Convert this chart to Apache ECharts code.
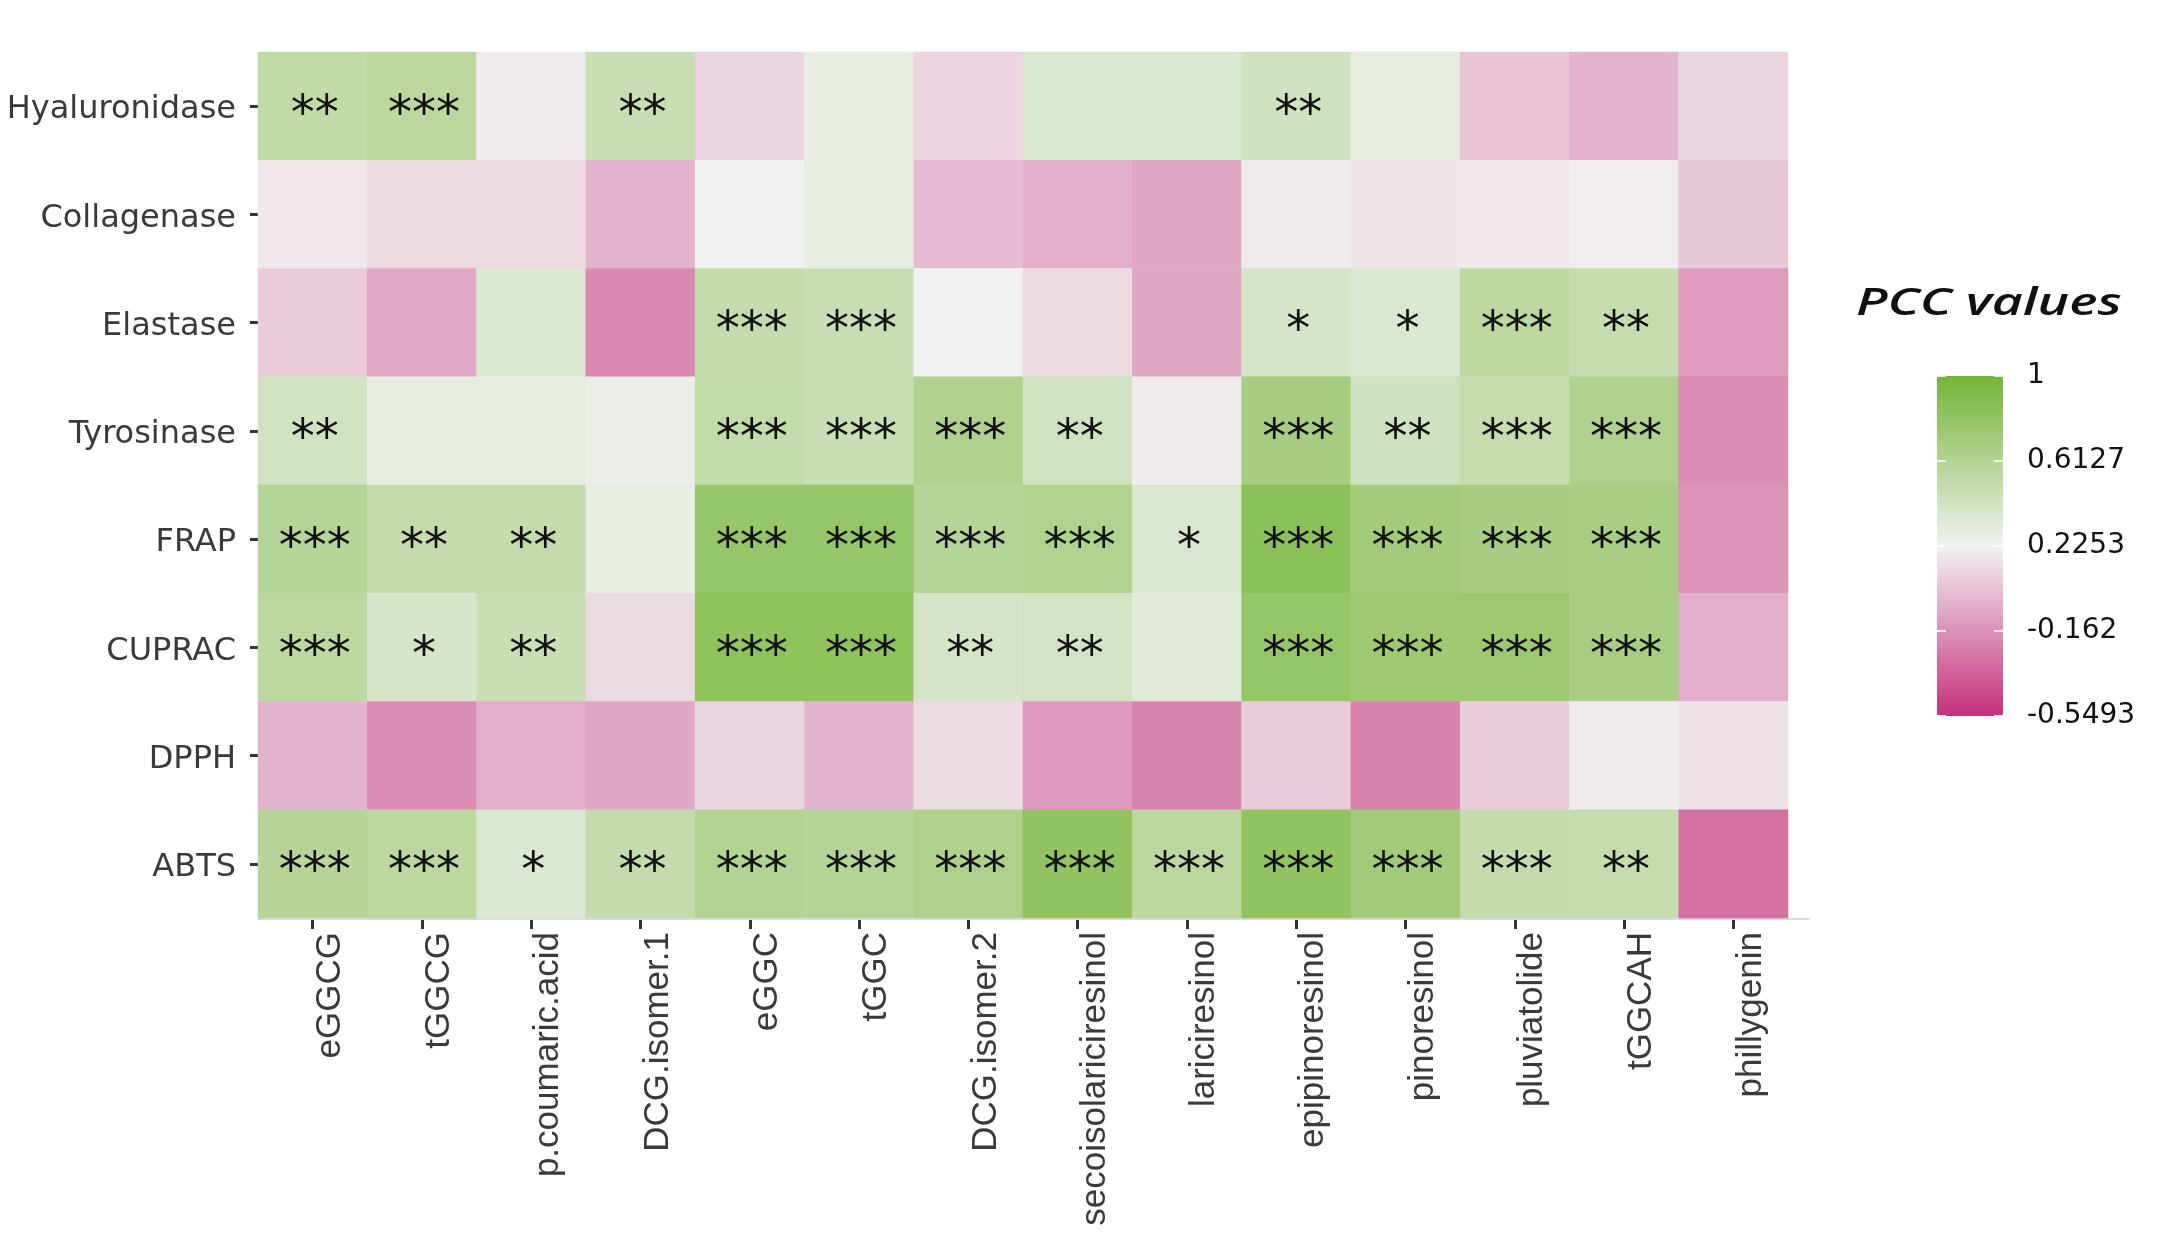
<!DOCTYPE html>
<html>
<head>
<meta charset="utf-8">
<title>PCC heatmap</title>
<script src="https://cdn.jsdelivr.net/npm/echarts@6/dist/echarts.min.js"></script>
<style>
  html, body { margin: 0; padding: 0; background: #fff; }
  #chart { width: 2165px; height: 1258px; }
</style>
</head>
<body>
<div id="chart"></div>
<script>
// compounds (x axis) and assays (y axis, top to bottom)
var compounds = ['eGGCG', 'tGGCG', 'p.coumaric.acid', 'DCG.isomer.1', 'eGGC', 'tGGC', 'DCG.isomer.2',
    'secoisolariciresinol', 'lariciresinol', 'epipinoresinol', 'pinoresinol', 'pluviatolide', 'tGGCAH', 'phillygenin'];
var assays = ['Hyaluronidase', 'Collagenase', 'Elastase', 'Tyrosinase', 'FRAP', 'CUPRAC', 'DPPH', 'ABTS'];

// PCC values, one array per assay (order = compounds)
var hyaluronidase = [0.53, 0.56, 0.19, 0.48, 0.11, 0.29, 0.10, 0.37, 0.37, 0.44, 0.30, 0.04, -0.03, 0.11];
var collagenase   = [0.18, 0.13, 0.13, -0.03, 0.22, 0.29, 0.01, -0.04, -0.08, 0.19, 0.17, 0.18, 0.20, 0.06];
var elastase      = [0.07, -0.07, 0.36, -0.20, 0.51, 0.48, 0.22, 0.13, -0.08, 0.40, 0.36, 0.56, 0.50, -0.12];
var tyrosinase    = [0.43, 0.29, 0.29, 0.27, 0.52, 0.48, 0.64, 0.43, 0.19, 0.69, 0.44, 0.50, 0.64, -0.18];
var frap          = [0.60, 0.51, 0.51, 0.29, 0.79, 0.79, 0.60, 0.63, 0.37, 0.85, 0.72, 0.69, 0.68, -0.16];
var cuprac        = [0.56, 0.40, 0.48, 0.13, 0.83, 0.83, 0.40, 0.41, 0.33, 0.79, 0.74, 0.76, 0.68, -0.04];
var dpph          = [-0.02, -0.18, -0.05, -0.08, 0.11, -0.02, 0.13, -0.13, -0.22, 0.07, -0.23, 0.07, 0.19, 0.16];
var abts          = [0.59, 0.56, 0.36, 0.51, 0.62, 0.60, 0.65, 0.82, 0.56, 0.82, 0.72, 0.51, 0.50, -0.29];

// significance stars
var hyaluronidaseSig = ['**', '***', '', '**', '', '', '', '', '', '**', '', '', '', ''];
var collagenaseSig   = ['', '', '', '', '', '', '', '', '', '', '', '', '', ''];
var elastaseSig      = ['', '', '', '', '***', '***', '', '', '', '*', '*', '***', '**', ''];
var tyrosinaseSig    = ['**', '', '', '', '***', '***', '***', '**', '', '***', '**', '***', '***', ''];
var frapSig          = ['***', '**', '**', '', '***', '***', '***', '***', '*', '***', '***', '***', '***', ''];
var cupracSig        = ['***', '*', '**', '', '***', '***', '**', '**', '', '***', '***', '***', '***', ''];
var dpphSig          = ['', '', '', '', '', '', '', '', '', '', '', '', '', ''];
var abtsSig          = ['***', '***', '*', '**', '***', '***', '***', '***', '***', '***', '***', '***', '**', ''];

// legend
var pccMin = -0.5493;
var pccMax = 1;
var legendTicks = [1, 0.6127, 0.2253, -0.162, -0.5493];

var rows = [hyaluronidase, collagenase, elastase, tyrosinase, frap, cuprac, dpph, abts];
var sigs = [hyaluronidaseSig, collagenaseSig, elastaseSig, tyrosinaseSig, frapSig, cupracSig, dpphSig, abtsSig];

var cells = [];
rows.forEach(function (row, j) {
    row.forEach(function (v, i) {
        cells.push([i, j, v, sigs[j][i]]);
    });
});

var chartW = 2165;
var gridLeft = 258, gridRight = 377, gridTop = 52, gridBottom = 340;
var barLeft = 1937, barTop = 376, barW = 66, barH = 340;

var graphics = [];
// light baseline under the panel
graphics.push({
    type: 'line',
    shape: { x1: gridLeft, y1: 1258 - gridBottom + 1, x2: chartW - gridRight + 22, y2: 1258 - gridBottom + 1 },
    style: { stroke: '#dcdcdc', lineWidth: 2 },
    z: 1
});
// legend title
graphics.push({
    type: 'text',
    x: 1856, y: 304,
    scaleX: 1.41,
    style: {
        text: 'PCC values',
        font: 'italic 600 38px "Open Sans"',
        fill: '#111',
        textVerticalAlign: 'middle'
    }
});
legendTicks.forEach(function (t) {
    var y = barTop + (pccMax - t) / (pccMax - pccMin) * barH;
    graphics.push({
        type: 'text',
        x: 2027, y: y,
        style: { text: String(t), font: '28px "DejaVu Sans"', fill: '#111', textVerticalAlign: 'middle' },
        z: 10
    });
    graphics.push({
        type: 'line',
        shape: { x1: barLeft, y1: y, x2: barLeft + 9, y2: y },
        style: { stroke: 'rgba(255,255,255,0.8)', lineWidth: 2 },
        z: 10
    });
    graphics.push({
        type: 'line',
        shape: { x1: barLeft + barW - 9, y1: y, x2: barLeft + barW, y2: y },
        style: { stroke: 'rgba(255,255,255,0.8)', lineWidth: 2 },
        z: 10
    });
});

var chart = echarts.init(document.getElementById('chart'));

var option = {
    backgroundColor: '#ffffff',
    animation: false,
    grid: { left: gridLeft, right: gridRight, top: gridTop, bottom: gridBottom },
    xAxis: {
        type: 'category',
        data: compounds,
        axisLine: { show: false },
        axisTick: { show: true, alignWithLabel: true, length: 11, lineStyle: { color: '#333', width: 3 } },
        axisLabel: {
            rotate: 90,
            margin: 14,
            color: '#3a3a3a',
            fontSize: 35,
            fontFamily: '"Liberation Sans", Arial, sans-serif',
            verticalAlign: 'top'
        },
        splitLine: { show: false }
    },
    yAxis: {
        type: 'category',
        data: assays,
        inverse: true,
        axisLine: { show: false },
        axisTick: { show: true, alignWithLabel: true, length: 8, lineStyle: { color: '#333', width: 3 } },
        axisLabel: {
            margin: 22,
            formatter: function (v) { return '{a|' + v + '}'; },
            rich: {
                a: {
                    color: '#3a3a3a',
                    fontSize: 32,
                    fontFamily: '"DejaVu Sans", sans-serif',
                    padding: [8, 0, 0, 0]
                }
            }
        },
        splitLine: { show: false }
    },
    visualMap: {
        type: 'continuous',
        min: pccMin,
        max: pccMax,
        dimension: 2,
        calculable: false,
        hoverLink: false,
        orient: 'vertical',
        left: barLeft,
        top: barTop,
        itemWidth: barW,
        itemHeight: barH,
        padding: 0,
        text: null,
        inRange: { color: ['#c4317c', '#f2f2f2', '#74b535'] }
    },
    series: [{
        type: 'heatmap',
        data: cells,
        label: {
            show: true,
            formatter: function (p) { return p.data[3]; },
            color: '#111',
            fontSize: 48,
            fontFamily: '"DejaVu Sans", sans-serif',
            offset: [2, 10]
        },
        emphasis: { disabled: true },
        itemStyle: { borderWidth: 0 }
    }],
    graphic: graphics
};

chart.setOption(option);
</script>
</body>
</html>
